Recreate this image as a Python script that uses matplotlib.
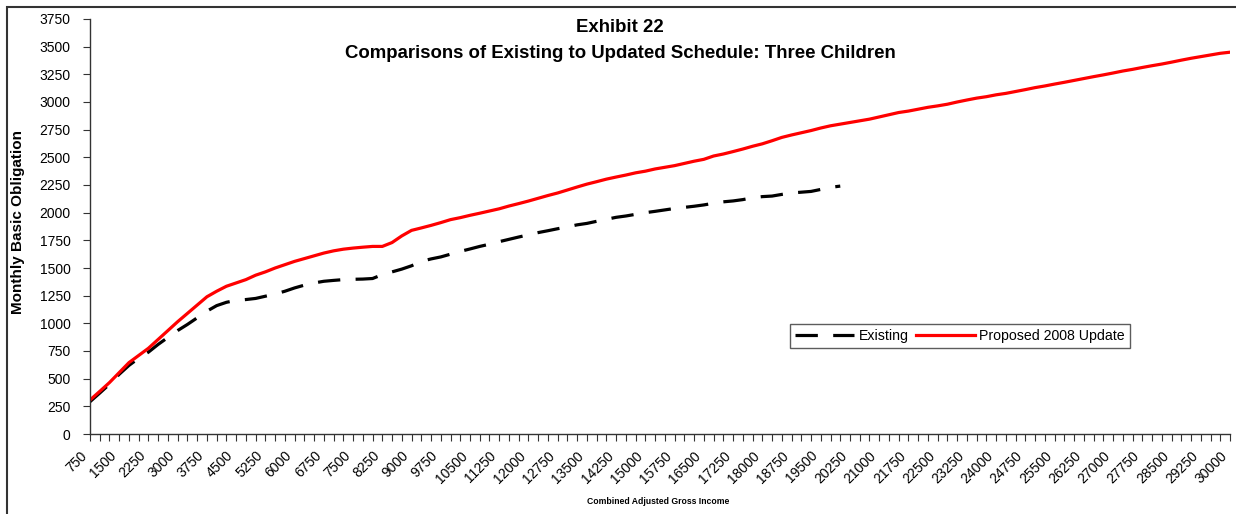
import numpy as np
import matplotlib.pyplot as plt
import matplotlib.transforms as mtransforms
from matplotlib.patches import Rectangle

plt.rcParams['font.family'] = ['Liberation Sans', 'DejaVu Sans']

# Combined adjusted gross income, one category every $250
income = list(range(750, 30001, 250))

# Monthly basic obligation, three children
proposed = [
    307, 385, 465, 555, 645, 710, 775, 855, 935, 1015,
    1090, 1165, 1240, 1290, 1335, 1365, 1395, 1435, 1465, 1500,
    1530, 1560, 1585, 1610, 1635, 1655, 1670, 1680, 1688, 1695,
    1695, 1730, 1790, 1840, 1862, 1885, 1910, 1937, 1955, 1976,
    1995, 2015, 2035, 2060, 2082, 2105, 2130, 2155, 2178, 2205,
    2232, 2258, 2280, 2303, 2322, 2340, 2360, 2375, 2395, 2410,
    2425, 2445, 2465, 2482, 2512, 2530, 2552, 2575, 2600, 2622,
    2650, 2680, 2702, 2722, 2742, 2765, 2785, 2800, 2815, 2830,
    2845, 2865, 2885, 2905, 2918, 2935, 2952, 2965, 2980, 3000,
    3018, 3035, 3048, 3065, 3078, 3095, 3112, 3130, 3145, 3162,
    3178, 3195, 3212, 3229, 3245, 3262, 3280, 3295, 3312, 3328,
    3343, 3360, 3378, 3395, 3410, 3425, 3440, 3450,
]
existing = [
    292, 370, 450, 540, 620, 685, 740, 810, 873, 935,
    990, 1050, 1110, 1160, 1190, 1208, 1215, 1225, 1245, 1265,
    1290, 1320, 1345, 1365, 1380, 1388, 1395, 1398, 1400, 1405,
    1440, 1465, 1490, 1520, 1560, 1582, 1600, 1625, 1650, 1672,
    1695, 1715, 1738, 1759, 1780, 1800, 1820, 1837, 1855, 1872,
    1890, 1903, 1922, 1940, 1958, 1970, 1985, 2000, 2012, 2025,
    2038, 2048, 2058, 2070, 2085, 2098, 2106, 2118, 2135, 2145,
    2150, 2165, 2178, 2185, 2192, 2210, 2229, 2240,
]

yticks = list(range(0, 3751, 250))

fig = plt.figure(figsize=(12.36, 5.14), dpi=100)
ax = fig.add_axes([90 / 1236, 1 - 434 / 514, 1140 / 1236, 415 / 514])

ax.plot(range(len(existing)), existing, color='black', linewidth=2.3,
        dashes=(7.0, 4.8), label='Existing')
ax.plot(range(len(proposed)), proposed, color='#ff0000', linewidth=2.3,
        label='Proposed 2008 Update')

ax.set_xlim(0, len(income) - 1)
ax.set_ylim(0, 3750)
ax.set_yticks(yticks)
ax.set_yticklabels([str(v) for v in yticks], fontsize=10)

ax.set_xticks(range(len(income)), minor=True)
ax.set_xticks(range(0, len(income), 3))
ax.set_xticklabels([str(v) for v in income[::3]], fontsize=10,
                   rotation=45, ha='right', va='center', rotation_mode='anchor')
ax.tick_params(axis='x', which='both', direction='out', length=5, width=0.8,
               colors='#333333', labelcolor='black', pad=9)
ax.tick_params(axis='y', direction='out', length=5, width=0.8,
               colors='#333333', labelcolor='black', pad=9)

# nudge the slanted income labels left so they end under their tick
shift = mtransforms.ScaledTranslation(-5 / 100, 0, fig.dpi_scale_trans)
for lbl in ax.get_xticklabels():
    lbl.set_transform(lbl.get_transform() + shift)

for side in ('top', 'right'):
    ax.spines[side].set_visible(False)
for side in ('left', 'bottom'):
    ax.spines[side].set_color('#333333')
    ax.spines[side].set_linewidth(1.0)

fig.text(620 / 1236, 1 - 28 / 514, 'Exhibit 22', ha='center', va='center',
         fontsize=13.4, fontweight='bold')
fig.text(620 / 1236, 1 - 53 / 514,
         'Comparisons of Existing to Updated Schedule: Three Children',
         ha='center', va='center', fontsize=13.4, fontweight='bold')
fig.text(18 / 1236, 1 - 222 / 514, 'Monthly Basic Obligation', rotation=90,
         ha='center', va='center', fontsize=11, fontweight='bold')
fig.text(658 / 1236, 1 - 502 / 514, 'Combined Adjusted Gross Income',
         ha='center', va='center', fontsize=6.2, fontweight='bold')

leg = ax.legend(loc='center', bbox_to_anchor=(960 / 1236, 1 - 336 / 514),
                bbox_transform=fig.transFigure, ncol=2, fontsize=10.2,
                frameon=True, fancybox=False, handlelength=4.2,
                handletextpad=0.3, columnspacing=0.5, borderpad=0.35,
                borderaxespad=0)
leg.get_frame().set_edgecolor('#333333')
leg.get_frame().set_linewidth(1.0)

# outer chart border
fig.patches.append(Rectangle((7 / 1236, -0.02), 1.1, 1 - 7 / 514 + 0.02,
                             transform=fig.transFigure, fill=False,
                             edgecolor='#333333', linewidth=1.5))

fig.savefig('out.png', dpi=100)
